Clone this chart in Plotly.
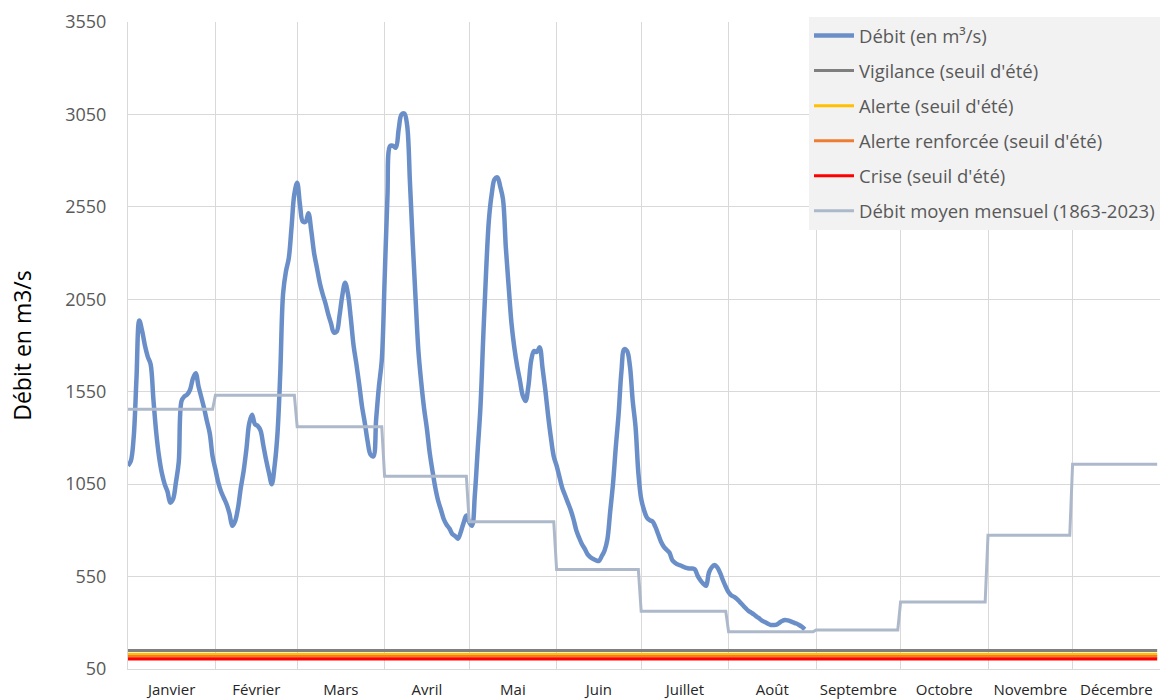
import pandas as pd
import plotly.graph_objects as go

# ---------------- DATA ----------------
months = ["Janvier", "Février", "Mars", "Avril", "Mai", "Juin", "Juillet",
          "Août", "Septembre", "Octobre", "Novembre", "Décembre"]
month_days = [31, 29, 31, 30, 31, 30, 31, 31, 30, 31, 30, 31]  # 2024

# Daily discharge 2024 (m3/s), from 1 January
debit = [
    1150, 1175, 1300, 1620, 1935, 1880, 1800, 1740, 1700, 1510,
    1330, 1200, 1110, 1050, 1010, 950, 970, 1060, 1170, 1500,
    1525, 1535, 1560, 1620, 1650, 1580, 1520, 1460, 1390, 1324,
    1200, 1130, 1060, 1010, 975, 940, 890, 825, 850, 920,
    1030, 1120, 1240, 1380, 1425, 1375, 1365, 1340, 1260, 1180,
    1110, 1050, 1150, 1320, 1650, 2080, 2200, 2270, 2440, 2620,
    2680, 2560, 2470, 2470, 2515, 2420, 2300, 2220, 2140, 2080,
    2030, 1970, 1920, 1870, 1875, 1960, 2070, 2140, 2080, 1950,
    1800, 1700, 1590, 1470, 1380, 1280, 1210, 1200, 1400, 1580,
    1720, 2150, 2600, 2880, 2880, 2870, 2970, 3050, 3055, 2990,
    2680, 2350, 2050, 1770, 1600, 1460, 1350, 1220, 1120, 1030,
    960, 910, 860, 830, 810, 780, 770, 755, 790, 840,
    880, 845, 825, 990, 1230, 1468, 1850, 2200, 2480, 2620,
    2700, 2710, 2660, 2590, 2330, 2120, 1920, 1790, 1690, 1610,
    1530, 1500, 1580, 1720, 1770, 1765, 1790, 1680, 1560, 1420,
    1300, 1200, 1150, 1090, 1030, 990, 950, 910, 860, 800,
    760, 725, 700, 670, 655, 645, 638, 635, 660, 690,
    750, 900, 1050, 1250, 1430, 1660, 1780, 1770, 1690, 1500,
    1360, 1110, 970, 910, 870, 855, 848, 820, 780, 740,
    712, 695, 680, 640, 625, 615, 610, 603, 597, 594,
    594, 590, 555, 530, 512, 500, 570, 600, 612, 600,
    570, 530, 495, 465, 448, 440, 428, 412, 396, 380,
    365, 355, 345, 333, 322, 310, 303, 295, 288, 288,
    290, 300, 310, 315, 313, 308, 302, 296, 288, 278,
    264,
]

# Monthly mean discharge 1863-2023 (m3/s)
debit_moyen = [1455, 1531, 1360, 1093, 846, 588, 362, 251, 261, 412, 774, 1158]

# Summer thresholds (m3/s)
seuil_noms = ["Vigilance (seuil d'été)", "Alerte (seuil d'été)",
              "Alerte renforcée (seuil d'été)", "Crise (seuil d'été)"]
seuil_valeurs = [150, 130, 118, 104]
seuil_couleurs = ["#7F7F7F", "#FFC000", "#ED7D31", "#FF0000"]

y_ticks = [50, 550, 1050, 1550, 2050, 2550, 3050, 3550]

# ---------------- BUILD ----------------
year_days = pd.date_range("2024-01-01", "2024-12-31", freq="D")
debit_dates = year_days[: len(debit)]
moyen_daily = []
for val, n in zip(debit_moyen, month_days):
    moyen_daily += [val] * n

month_starts = pd.date_range("2024-01-01", periods=13, freq="MS")
month_mids = [s + pd.Timedelta(days=n / 2) for s, n in zip(month_starts[:-1], month_days)]

FONT = "Open Sans, Noto Sans, sans-serif"

fig = go.Figure()

fig.add_trace(go.Scatter(
    x=debit_dates, y=debit, mode="lines", name="Débit (en m³/s)",
    line=dict(color="#6A8FC8", width=4.5, shape="spline", smoothing=1.0),
    legendgroup="a",
))
for i, (name, val, col) in enumerate(zip(seuil_noms, seuil_valeurs, seuil_couleurs)):
    fig.add_trace(go.Scatter(
        x=year_days, y=[val] * len(year_days), mode="lines", name=name,
        line=dict(color=col, width=3), legendgroup=f"s{i}",
    ))
fig.add_trace(go.Scatter(
    x=year_days, y=moyen_daily, mode="lines", name="Débit moyen mensuel (1863-2023)",
    line=dict(color="#ADB9CA", width=3), legendgroup="z",
))

fig.update_layout(
    width=1160, height=700,
    margin=dict(l=128, r=0, t=22, b=31),
    paper_bgcolor="white", plot_bgcolor="white",
    font=dict(family=FONT, color="#595959", size=16),
    showlegend=True,
    legend=dict(
        x=1, xanchor="right", y=1.0077, yanchor="top",
        bgcolor="#F2F2F2", borderwidth=0,
        font=dict(family=FONT, size=18.5, color="#595959"),
        traceorder="grouped", tracegroupgap=8,
        itemwidth=40,
    ),
    xaxis=dict(
        range=[month_starts[0], month_starts[-1]],
        tickvals=month_mids, ticktext=months,
        showgrid=False, ticks="", showline=True, linecolor="#D9D9D9", linewidth=1,
        tickfont=dict(family=FONT, size=15, color="#262626"),
        ticklabelstandoff=7,
        minor=dict(tickvals=list(month_starts), showgrid=True, gridcolor="#D9D9D9",
                   gridwidth=1, ticks=""),
        zeroline=False,
    ),
    yaxis=dict(
        range=[50, 3550], tickvals=y_ticks,
        showgrid=True, gridcolor="#D9D9D9", gridwidth=1,
        showline=True, linecolor="#D9D9D9",
        ticks="", ticklabelstandoff=17,
        tickfont=dict(family=FONT, size=18, color="#595959"),
        title=dict(text="Débit en m3/s", standoff=27,
                   font=dict(family=FONT, size=23, color="#000000")),
        zeroline=False,
    ),
)

fig.write_html(
    "out.html",
    config={"displayModeBar": False},
    post_script="document.body.style.margin='0';document.body.style.overflow='hidden';",
)
